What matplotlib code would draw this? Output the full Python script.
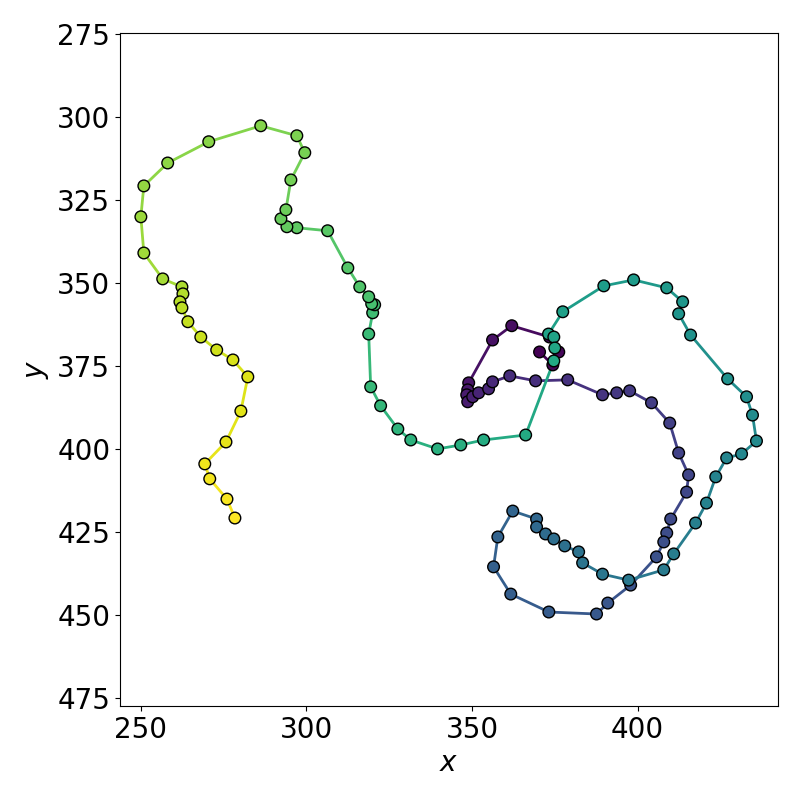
import matplotlib
matplotlib.use("Agg")
import matplotlib.pyplot as plt
from matplotlib.collections import LineCollection
import numpy as np

# trajectory points, in order
xs = [370.4, 374.4, 376.2, 373.4, 362.0, 356.2, 349.0, 348.7, 348.4, 348.7,
      350.2, 352.0, 355.0, 356.2, 361.4, 369.2, 378.9, 389.4, 393.7, 397.6,
      404.2, 409.7, 412.4, 415.4, 414.8, 410.0, 408.8, 407.9, 405.7, 397.9,
      391.0, 387.6, 373.2, 361.7, 356.5, 357.8, 362.3, 369.5, 369.5, 372.2,
      374.7, 378.0, 382.2, 383.4, 389.4, 397.3, 407.9, 410.9, 417.5, 420.8,
      423.6, 426.9, 431.4, 435.9, 434.7, 432.9, 427.2, 416.0, 412.4, 413.6,
      408.8, 398.8, 389.8, 377.4, 373.1, 374.7, 375.0, 374.7, 366.2, 353.5,
      346.6, 339.6, 331.5, 327.6, 322.4, 319.4, 318.8, 320.0, 320.6, 319.7,
      318.8, 316.1, 312.5, 306.4, 297.1, 294.1, 292.3, 293.8, 295.3, 299.5,
      297.1, 286.2, 270.5, 258.1, 250.9, 250.0, 250.9, 256.6, 262.4, 262.7,
      261.8, 262.4, 264.2, 268.1, 272.9, 277.8, 282.3, 280.2, 275.7, 269.3,
      270.8, 276.0, 278.4]
ys = [370.8, 374.7, 370.8, 366.3, 362.9, 367.2, 380.1, 382.2, 383.7, 385.8,
      384.3, 383.1, 381.9, 379.8, 378.0, 379.5, 379.2, 383.7, 383.1, 382.5,
      386.1, 392.2, 401.2, 407.8, 413.0, 421.1, 425.3, 428.0, 432.5, 441.0,
      446.4, 449.7, 449.1, 443.7, 435.5, 426.5, 418.7, 421.1, 423.5, 425.6,
      427.1, 429.2, 431.0, 434.3, 437.7, 439.5, 436.4, 431.6, 422.3, 416.3,
      408.4, 402.7, 401.5, 397.6, 389.8, 384.3, 378.9, 365.7, 359.3, 355.7,
      351.5, 349.1, 350.9, 358.7, 365.4, 366.3, 369.6, 373.5, 395.8, 397.3,
      398.8, 400.0, 397.3, 394.0, 387.0, 381.3, 365.4, 359.0, 356.6, 356.3,
      354.2, 351.2, 345.5, 334.3, 333.4, 333.1, 330.7, 328.0, 319.0, 310.8,
      305.7, 302.7, 307.5, 313.9, 320.8, 330.1, 341.0, 348.8, 351.2, 353.3,
      355.7, 357.5, 361.7, 366.3, 370.2, 373.2, 378.3, 388.6, 397.9, 404.5,
      409.0, 415.1, 420.8]

xs = np.array(xs)
ys = np.array(ys)
n = len(xs)
cmap = plt.get_cmap("viridis")
colors = cmap(np.linspace(0, 1, n))

fig = plt.figure(figsize=(8, 8), dpi=100)
ax = fig.add_axes([0.15, 0.1175, 0.8225, 0.8415])

# line segments coloured along the path
pts = np.column_stack([xs, ys]).reshape(-1, 1, 2)
segs = np.concatenate([pts[:-1], pts[1:]], axis=1)
lc = LineCollection(segs, colors=colors[:-1], linewidths=2, zorder=1)
ax.add_collection(lc)

ax.scatter(xs, ys, c=colors, s=70, edgecolors="black", linewidths=1, zorder=2)

ax.set_xlim(243.7, 442.4)
ax.set_ylim(477.4, 274.7)
ax.set_xticks([250, 300, 350, 400])
ax.set_yticks([275, 300, 325, 350, 375, 400, 425, 450, 475])
ax.tick_params(labelsize=20)
ax.set_xlabel("$x$", fontsize=20)
ax.set_ylabel("$y$", fontsize=20)

fig.savefig("out.png", dpi=100)
